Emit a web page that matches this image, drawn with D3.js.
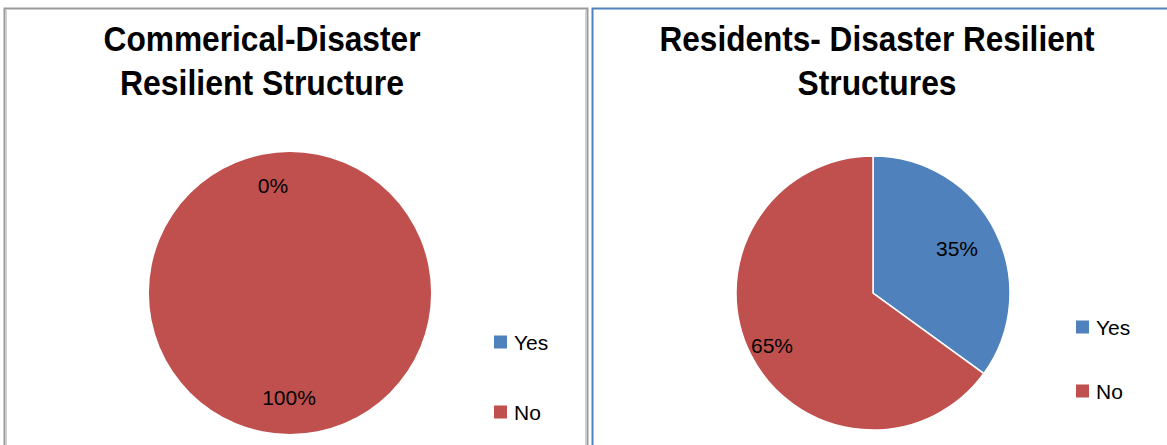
<!DOCTYPE html>
<html><head><meta charset="utf-8">
<script src="https://cdn.jsdelivr.net/npm/d3@7"></script>
<style>body{margin:0;background:#fff}svg{display:block}</style>
</head><body>
<svg id="c" width="1167" height="445"></svg>
<script>
const categories = ["Yes", "No"];
const commercialValues = [0, 100];
const residentValues = [35, 65];
const commercialTitle = ["Commerical-Disaster", "Resilient Structure"];
const residentTitle = ["Residents- Disaster Resilient", "Structures"];
const colors = ["#4F81BD", "#C0504D"];

const svg = d3.select("#c");
const font = "'Liberation Sans', Arial, sans-serif";

// panel borders
svg.append("rect").attr("x", 4.5).attr("y", 8.5).attr("width", 583).attr("height", 460)
  .attr("fill", "none").attr("stroke", "#9a9a9a").attr("stroke-width", 2);
svg.append("line").attr("x1", 6.5).attr("x2", 6.5).attr("y1", 9).attr("y2", 445).attr("stroke", "#d0d0d0").attr("stroke-width", 1);
svg.append("line").attr("x1", 585.5).attr("x2", 585.5).attr("y1", 9).attr("y2", 445).attr("stroke", "#d0d0d0").attr("stroke-width", 1);
svg.append("rect").attr("x", 592.5).attr("y", 8.5).attr("width", 600).attr("height", 460)
  .attr("fill", "none").attr("stroke", "#4F81BD").attr("stroke-width", 2);

function drawPie(cfg) {
  const g = svg.append("g");
  const pie = d3.pie().sort(null).value(d => d.v);
  const data = pie(categories.map((c, i) => ({ c, v: cfg.values[i], i })));
  const arc = d3.arc().innerRadius(0).outerRadius(cfg.r);
  const pg = g.append("g").attr("transform", `translate(${cfg.cx},${cfg.cy})`);
  pg.selectAll("path").data(data).enter().append("path")
    .attr("d", arc).attr("fill", d => colors[d.data.i])
    .attr("stroke", "#fff").attr("stroke-width", d => d.data.v > 0 && d.data.v < 100 ? 1.5 : 0);
  // labels
  pg.selectAll("text.lbl").data(data).enter().append("text")
    .attr("class", "lbl")
    .attr("x", (d, k) => cfg.labelPos[k][0] - cfg.cx)
    .attr("y", (d, k) => cfg.labelPos[k][1] - cfg.cy)
    .attr("text-anchor", "middle").attr("dominant-baseline", "central")
    .attr("font-family", font).attr("font-size", 21).attr("fill", "#000")
    .text(d => Math.round(d.data.v) + "%");
  // title
  cfg.title.forEach((t, k) => {
    g.append("text").attr("x", cfg.tx).attr("y", cfg.ty[k])
      .attr("text-anchor", "middle").attr("font-family", font)
      .attr("font-weight", "bold").attr("font-size", 35).attr("fill", "#000")
      .attr("textLength", cfg.tw[k]).attr("lengthAdjust", "spacingAndGlyphs")
      .text(t);
  });
  // legend
  categories.forEach((c, i) => {
    g.append("rect").attr("x", cfg.lx).attr("y", cfg.ly[i] - 6.5).attr("width", 13).attr("height", 13)
      .attr("fill", colors[i]);
    g.append("text").attr("x", cfg.lx + 20).attr("y", cfg.ly[i]).attr("dominant-baseline", "central")
      .attr("font-family", font).attr("font-size", 21).attr("fill", "#000").text(c);
  });
}

drawPie({
  values: commercialValues, cx: 290, cy: 293, r: 141,
  labelPos: [[273, 185], [289, 397]],
  title: commercialTitle, tx: 262, ty: [51, 95], tw: [317, 284],
  lx: 494, ly: [342, 412]
});
drawPie({
  values: residentValues, cx: 873, cy: 293, r: 137,
  labelPos: [[957, 248], [772, 345]],
  title: residentTitle, tx: 877, ty: [51, 95], tw: [435, 159],
  lx: 1076, ly: [327, 391]
});
</script>
</body></html>
